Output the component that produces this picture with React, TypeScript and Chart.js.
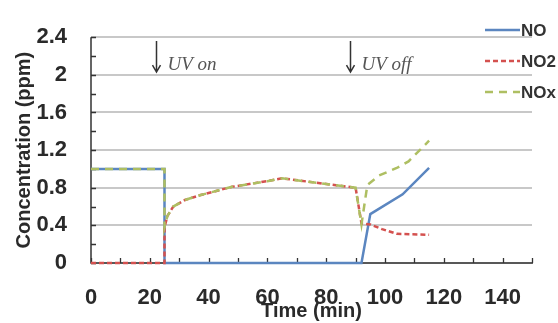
import React, { useEffect, useRef } from 'react';
import { Chart, registerables } from 'chart.js';
Chart.register(...registerables);

// ---- data ----
const noTime = [0, 25, 25, 92, 95, 106, 115];
const noValues = [1.0, 1.0, 0, 0, 0.52, 0.73, 1.01];
const no2Time = [0, 25, 25, 26, 28, 32, 37, 48, 60, 65, 90, 92, 95, 99, 104, 115];
const no2Values = [0, 0, 0.38, 0.5, 0.6, 0.67, 0.72, 0.81, 0.87, 0.9, 0.8, 0.42, 0.41, 0.36, 0.31, 0.3];
const noxTime = [0, 25, 25, 26, 28, 32, 37, 48, 60, 65, 90, 92, 94, 98, 104, 108, 115];
const noxValues = [1.0, 1.0, 0.38, 0.5, 0.6, 0.67, 0.72, 0.81, 0.87, 0.9, 0.8, 0.41, 0.83, 0.93, 1.01, 1.08, 1.3];

const xTickValues = [0, 20, 40, 60, 80, 100, 120, 140];
const xTickLabels = ['0', '20', '40', '60', '80', '100', '120', '140'];
const yTickValues = [0, 0.4, 0.8, 1.2, 1.6, 2.0, 2.4];
const yTickLabels = ['0', '0.4', '0.8', '1.2', '1.6', '2', '2.4'];
const xMinorTicks = [0, 10, 20, 30, 40, 50, 60, 70, 80, 90, 100, 110, 120, 130, 140, 150];
const yMinorTicks = [0, 0.2, 0.4, 0.6, 0.8, 1.0, 1.2, 1.4, 1.6, 1.8, 2.0, 2.2, 2.4];

const uvEventTimes = [22, 88];
const uvEventLabels = ['UV on', 'UV off'];
const uvArrowTop = 2.36;
const uvArrowBottom = 2.03;

const seriesNames = ['NO', 'NO2', 'NOx'];
const seriesColors = ['#5b86c0', '#d4514f', '#aebf62'];
const seriesDashes: number[][] = [[], [5, 3], [8, 6]];

const FONT = "'Liberation Sans', Arial, sans-serif";

const toPoints = (xs: number[], ys: number[]) => xs.map((x, i) => ({ x, y: ys[i] }));

const decor = {
  id: 'decor',
  beforeDatasetsDraw(chart: any) {
    const { ctx, chartArea: a, scales } = chart;
    const x = scales.x, y = scales.y;
    ctx.save();
    ctx.strokeStyle = '#333';
    ctx.lineWidth = 1.5;
    ctx.beginPath();
    ctx.moveTo(a.left, a.top);
    ctx.lineTo(a.left, a.bottom);
    ctx.lineTo(a.right + 1, a.bottom);
    ctx.stroke();
    ctx.lineWidth = 1.3;
    ctx.beginPath();
    for (const t of xMinorTicks) {
      const px = Math.round(x.getPixelForValue(t)) + 0.5;
      ctx.moveTo(px, a.bottom);
      ctx.lineTo(px, a.bottom - 5);
    }
    for (const v of yMinorTicks) {
      const py = Math.round(y.getPixelForValue(v)) + 0.5;
      ctx.moveTo(a.left, py);
      ctx.lineTo(a.left + 5, py);
    }
    ctx.stroke();
    ctx.restore();
  },
  afterDraw(chart: any) {
    const { ctx, scales } = chart;
    const x = scales.x, y = scales.y;
    ctx.save();
    // legend
    const rows = [30, 61, 92];
    seriesNames.forEach((name, i) => {
      ctx.strokeStyle = seriesColors[i];
      ctx.lineWidth = 2.5;
      ctx.setLineDash(seriesDashes[i]);
      ctx.beginPath();
      ctx.moveTo(485, rows[i]);
      ctx.lineTo(520, rows[i]);
      ctx.stroke();
      ctx.setLineDash([]);
      ctx.fillStyle = '#333';
      ctx.font = `bold 17px ${FONT}`;
      ctx.textBaseline = 'middle';
      ctx.textAlign = 'left';
      ctx.fillText(name, 521, rows[i] + 1);
    });
    // UV annotations
    uvEventTimes.forEach((t, i) => {
      const px = Math.round(x.getPixelForValue(t)) + 0.5;
      const top = y.getPixelForValue(uvArrowTop);
      const bot = y.getPixelForValue(uvArrowBottom);
      ctx.strokeStyle = '#333';
      ctx.lineWidth = 1.5;
      ctx.beginPath();
      ctx.moveTo(px, top);
      ctx.lineTo(px, bot);
      ctx.moveTo(px - 4, bot - 7);
      ctx.lineTo(px, bot);
      ctx.lineTo(px + 4, bot - 7);
      ctx.stroke();
      ctx.fillStyle = '#555';
      ctx.font = `italic 19px 'Liberation Serif', 'Times New Roman', serif`;
      ctx.textBaseline = 'alphabetic';
      ctx.textAlign = 'left';
      ctx.fillText(uvEventLabels[i], px + 11, bot - 2);
    });
    ctx.restore();
  },
};

export default function App() {
  const ref = useRef<HTMLCanvasElement>(null);
  useEffect(() => {
    if (!ref.current) return;
    const series = [toPoints(noTime, noValues), toPoints(no2Time, no2Values), toPoints(noxTime, noxValues)];
    const chart = new Chart(ref.current, {
      type: 'scatter',
      data: {
        datasets: seriesNames.map((name, i) => ({
          label: name,
          data: series[i],
          showLine: true,
          borderColor: seriesColors[i],
          backgroundColor: seriesColors[i],
          borderWidth: 2.5,
          borderDash: seriesDashes[i],
          pointRadius: 0,
          tension: 0,
          clip: false as any,
          order: 2 - i,
        })),
      },
      options: {
        responsive: false,
        animation: false,
        devicePixelRatio: 1,
        layout: { padding: { top: 26, right: 26, left: 0, bottom: 0 } },
        plugins: { legend: { display: false }, tooltip: { enabled: false } },
        scales: {
          x: {
            type: 'linear',
            min: 0,
            max: 150,
            afterFit: (s: any) => { s.height = 60; },
            afterBuildTicks: (s: any) => { s.ticks = xTickValues.map((v) => ({ value: v })); },
            grid: { display: false },
            border: { display: false },
            ticks: {
              callback: (_v: any, i: number) => xTickLabels[i],
              font: { family: FONT, weight: 'bold', size: 22 },
              color: '#2a2a2a',
              padding: 14,
              maxRotation: 0,
            },
            title: {
              display: true,
              text: 'Time (min)',
              font: { family: FONT, weight: 'bold', size: 20 },
              color: '#2a2a2a',
              padding: { top: 0, bottom: 0 },
            },
          },
          y: {
            type: 'linear',
            min: 0,
            max: 2.4,
            afterFit: (s: any) => { s.width = 91; },
            afterBuildTicks: (s: any) => { s.ticks = yTickValues.map((v) => ({ value: v })); },
            grid: { color: '#c8c8c8', lineWidth: 2, drawTicks: false },
            border: { display: false },
            ticks: {
              callback: (_v: any, i: number) => yTickLabels[i],
              font: { family: FONT, weight: 'bold', size: 22 },
              color: '#2a2a2a',
              padding: 24,
            },
            title: {
              display: true,
              text: 'Concentration (ppm)',
              font: { family: FONT, weight: 'bold', size: 20 },
              color: '#2a2a2a',
              padding: { top: 12, bottom: 0 },
            },
          },
        },
      },
      plugins: [decor],
    });
    return () => chart.destroy();
  }, []);
  return (
    <div style={{ position: 'fixed', left: 0, top: 0, width: 558, height: 323, background: '#fff' }}>
      <canvas ref={ref} width={558} height={323} style={{ display: 'block' }} />
    </div>
  );
}
